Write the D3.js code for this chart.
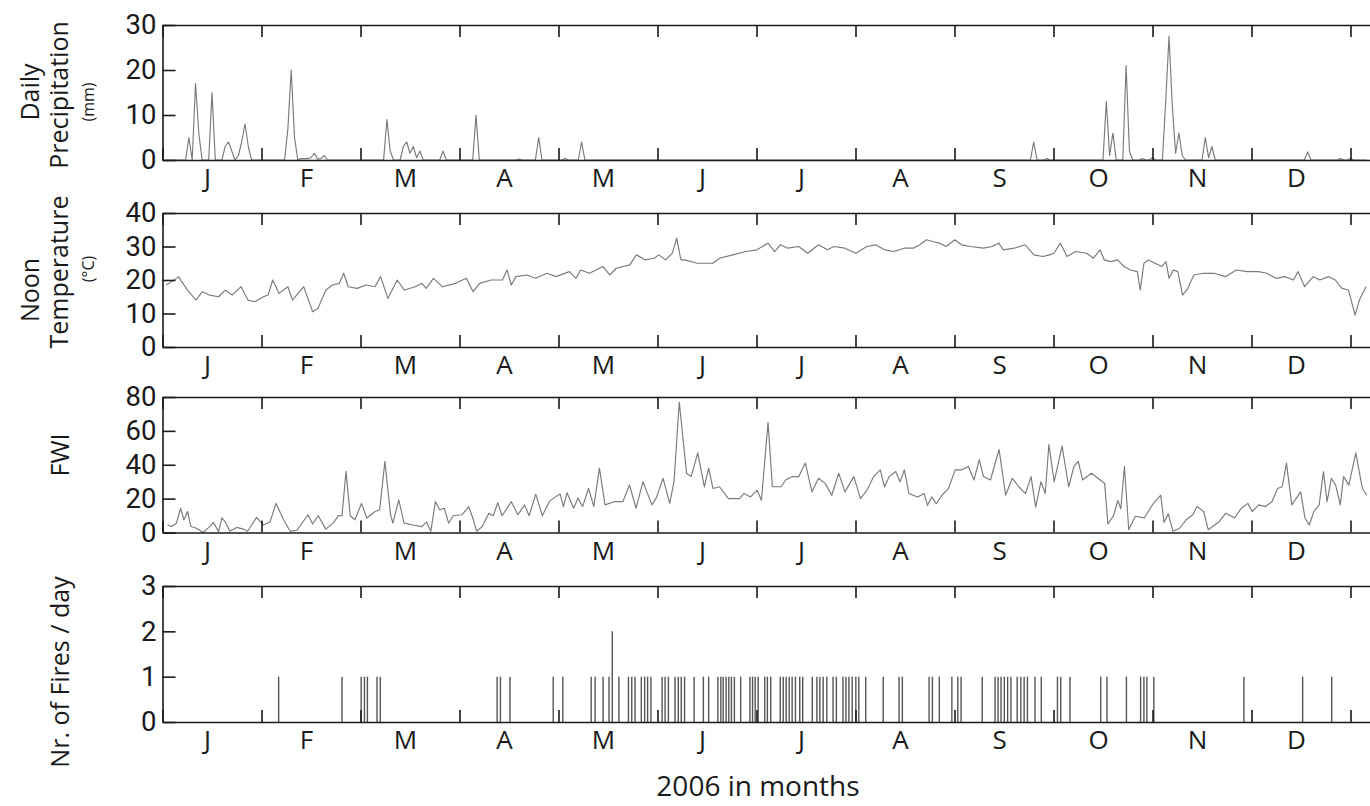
<!DOCTYPE html>
<html><head><meta charset="utf-8">
<script src="https://cdn.jsdelivr.net/npm/d3@7"></script>
<style>
body{margin:0;background:#fff}
svg{display:block}
</style></head><body>
<svg id="c" width="1370" height="806"></svg>
<script>
// ---------- data ----------
const monthLabels = ["J","F","M","A","M","J","J","A","S","O","N","D"];
const monthTickDays = [0,30,60,90,120,150,180,210,240,270,300,330,360];
const monthLabelDays = [13.5,43.5,73.5,103.5,133.5,163.5,193.5,223.5,253.5,283.5,313.5,343.5];

const precipTicks = [0,10,20,30];
const tempTicks = [0,10,20,30,40];
const fwiTicks = [0,20,40,60,80];
const fireTicks = [0,1,2,3];

const precipDays = [1,7,8,9,10,11,12,14,15,16,18,19,20,21,22,23,24,25,26,27,37,38,39,40,41,42,43,44,45,46,47,48,49,50,67,68,69,70,72,73,74,75,76,77,78,79,84,85,86,94,95,96,107,108,109,113,114,115,121,122,123,126,127,128,263,264,265,267,268,269,285,286,287,288,289,291,292,293,294,296,297,298,299,300,301,303,304,305,306,307,308,309,310,315,316,317,318,319,346,347,348,356,357,358,359,360,361,365];
const precipValues = [0,0,5,0,17,6,0,0,15,0,0,3,4,2,0,1,4,8,3,0,0,7,20,5,0,0.3,0.3,0.3,0.5,1.5,0.2,0.3,1,0,0,9,2,0,0,3,4,1.5,3,0.5,2,0,0,2,0,0,10,0,0,0.2,0,0,5,0,0,0.3,0,0,4,0,0,4,0,0,0.3,0,0,13,1,6,0,0,21,2,0,0,0.3,0,0,0.5,0,0,13,27.5,12,1.5,6,1,0,0,5,0.5,3,0,0,1.8,0,0,0.3,0,0,0.3,0,0];

const tempDays = [1,2,4.9,5.8,7.6,10.1,12.1,14.2,17,19,21.1,23.8,25.9,27.9,30.6,32,33.4,35.3,38,39.4,42.8,45.5,47.1,49.5,51.5,53.6,54.9,56.3,59,61.7,64.4,66.1,68.3,71.1,73.3,76.6,78.6,79.9,82.1,84.8,88.8,92.1,94.1,96.1,99.6,103,104.4,105.7,107.1,110.4,113.1,116.5,119.2,123.3,125.3,126.7,129.4,133.5,135.5,137.5,141.6,143.6,146.3,149,150.4,152.4,154.5,155.8,157.1,158.2,162.1,166.8,168.8,172.8,176.8,180.1,183.5,185.5,187.2,189.5,192.8,195.5,198.8,201.5,203.4,206.8,210.1,213.4,216.1,218.8,221.5,224.8,227.5,229.5,231.5,233.4,235.5,237.5,240.1,242.1,244.8,248.8,251.4,253.4,254.8,258.1,261.4,264.1,266.8,268.8,270.1,272.1,274.1,276.7,280.1,282.1,284.1,285.4,287.4,289.4,291.4,293.4,295.4,296.3,297.4,298.7,300.8,302.8,304.1,305,306.3,307.7,309.1,310.7,312.5,315.4,318.7,322.1,325.4,328.7,332.1,334.7,337.4,340.1,342.7,344.1,346.1,348.7,350.7,353.4,355.4,357.4,359.4,361.4,362.7,364.7];
const tempValues = [18.5,19,21,19.5,17,14,16.5,15.5,15,17,15.5,18,14,13.5,15,15.5,20,16,18,14,18,10.5,11.5,17,18.5,19,22,18,17.5,18.5,18,21,14.5,20,17,18,19,17.5,20.5,18,19,20.5,16.5,19,20,20,23,18.5,21,21.5,20.5,22,21,22.5,20.5,23,22,24,21.5,23.5,24.5,27.5,26,26.5,27.5,26,28,32.5,26,26,25,25,26.5,27.5,28.5,29,31,28.5,30.5,29.5,30,28,30.5,29,30,29.5,28,30,30.5,29,28.5,29.5,29.5,30.5,32,31.5,31,30,32,30.5,30,29.5,30,31,29,29.5,30.5,27.5,27,27.5,28,31,27,28.5,28,26.5,29,26,25.5,26,24,23,22.5,17,25,26,25,24,25.5,20.5,23,22.5,15.5,17.5,21.5,22,22,21,23,22.5,22.5,22,20.5,21,20,22.5,18,21,20,21,20,17.5,17,9.5,14,18];

const fwiDays = [1.5,2.8,4.2,5.5,6.5,7.6,8.6,10.3,12.3,14.3,15.4,17,18,19,20.4,22.5,24.5,25.8,28.5,30.6,32.6,34.4,36.7,38.7,40.7,44.1,45.5,47.2,49.5,51.9,53.3,54.4,55.6,56.9,58.3,60.3,61.9,64.4,65.8,67.4,69.1,69.8,71.6,73.2,75.9,78.6,80,81.3,82.7,84,85.4,86.7,88.1,90.8,92.8,94.2,95.2,96.9,98.9,100.2,101.6,102.9,105.7,107.7,109.7,111.1,113.1,115.1,117.2,118.5,120.5,121.5,122.6,124.6,125.9,127.3,129.1,130.7,132.4,134.1,136.8,139.5,141.5,143.5,145.6,148.3,149.6,151.7,153.7,155,156.6,158.8,160.2,162.2,164.2,165.5,166.8,168.8,171.5,174.8,176.2,178.2,180.2,181.5,183.5,184.8,187.5,188.8,190.8,192.8,194.8,196.8,198.8,200.8,202.8,204.9,206.8,209.5,211.5,213.5,215.5,217.5,218.8,220.2,222.2,223.5,224.8,226.2,228.8,230.8,231.8,233.1,234.5,236.2,238.2,240.2,242.2,244.2,245.9,247.5,248.8,250.9,253.5,255.5,257.5,259.5,261.5,263.2,264.6,266.2,267.5,268.6,270.2,272.6,274.6,276.2,277.5,278.8,281.5,284.2,285.5,286.5,288.2,289.5,290.4,291.5,292.8,294.8,297.5,300.2,302.5,303.5,304.8,306.2,308.2,310.2,312.2,313.5,315.5,316.9,318.2,320.2,322.2,324.9,326.9,328.9,330.2,332.2,334.2,336.2,337.9,339.3,340.6,342.2,344.9,346.2,347.5,348.9,350.5,351.8,352.9,354.2,355.5,356.9,357.9,359.5,361.6,363.6,364.9];
const fwiValues = [4.4,3.5,5.5,14.3,7.5,12.4,3.5,2.5,0,3.5,6,0.5,8.7,6.3,0.7,3,2,0.7,8.9,4.4,6.3,17.2,7.5,0.7,1.3,10.5,5,9.9,2,6,10,9.9,36.1,9.9,7.5,17.2,8.6,12.4,13.4,42,10.5,5.5,19.2,5.5,4.4,3.5,6.3,0.7,18.2,13.4,14.3,5.5,9.9,10.5,15.3,7.5,0.7,3.5,11.4,9.9,17.6,9.9,18.2,10.5,16.3,9.9,22.7,9.9,18.2,20.3,22.7,15.3,23.5,14.3,20.3,15.3,26,15.3,38,16.3,18.2,18.2,28.1,14.3,30,16.3,20.3,32,17.2,30,77,35,33,47,27,38,26,27,20,20,23,21,25,19,65,27,27,31,33,33,41,24,32,29,22,35,24,33,20,25,33,37,27,33,36,30,37,23,21,23,16,21,17,22,26,37,37,39,31,43,33,31,49,22,32,27,23,33,15,30,23,52,30,51,27,39,42,31,35,31,29,5,10,19,14,39,1.6,9.6,8.6,17,22,6,11,0.7,2.5,7.5,10.5,15.3,12.4,1.6,3.5,6.3,11.4,8.6,14.3,17.2,12.4,16.3,15.3,18.2,26,27,41,16.3,24,8.6,4.4,12.4,16.3,36,18.2,32,28,16.3,33,28,47,26,22];

const fireDays = [35.2,54.4,60.2,61.2,62.1,65.0,66.0,101.4,102.4,105.3,118.4,121.3,129.9,131.1,133.5,135.3,136.3,138.3,141.2,142.2,143.2,145.1,146.1,147.0,148.0,151.4,152.3,153.3,155.3,156.3,157.2,158.2,161.1,163.9,165.5,168.3,169.2,169.9,170.8,171.6,172.4,173.3,175.2,178.0,178.8,179.6,180.5,182.5,183.3,184.3,187.2,188.1,189.0,189.9,190.8,191.8,193.1,194.0,196.9,198.3,199.2,200.2,201.3,203.2,204.2,206.2,207.1,208.0,209.0,210.1,211.0,213.1,218.4,223.2,224.2,232.3,233.3,235.4,239.2,241.0,242.0,248.4,252.3,253.2,254.1,255.1,256.1,257.1,259.0,260.1,261.1,262.1,264.4,266.3,271.2,272.2,275.0,284.3,286.2,292.1,296.4,297.4,298.3,300.4,327.7,345.5,354.3];
const fireCounts = [1,1,1,1,1,1,1,1,1,1,1,1,1,1,1,1,2,1,1,1,1,1,1,1,1,1,1,1,1,1,1,1,1,1,1,1,1,1,1,1,1,1,1,1,1,1,1,1,1,1,1,1,1,1,1,1,1,1,1,1,1,1,1,1,1,1,1,1,1,1,1,1,1,1,1,1,1,1,1,1,1,1,1,1,1,1,1,1,1,1,1,1,1,1,1,1,1,1,1,1,1,1,1,1,1,1,1];

// ---------- layout ----------
const svg = d3.select("#c");
const FONT = "'Open Sans', sans-serif";
const NUMFONT = "Roboto, 'Open Sans', sans-serif";
const INK = "#1a1a1a";
const x = d3.scaleLinear().domain([0, 372]).range([162.5, 162.5 + 372 * 3.3]);

const panels = [
  {top: 25,  bottom: 160, max: 30, ticks: precipTicks, kind: "line", days: precipDays, values: precipValues},
  {top: 213, bottom: 347, max: 40, ticks: tempTicks,   kind: "line", days: tempDays,   values: tempValues},
  {top: 397, bottom: 532.5, max: 80, ticks: fwiTicks,  kind: "line", days: fwiDays,    values: fwiValues},
  {top: 586, bottom: 722, max: 3,  ticks: fireTicks,   kind: "bars", days: fireDays,   values: fireCounts}
];

function styleAxis(g) {
  g.attr("font-family", FONT).attr("color", INK);
  g.selectAll("path.domain, .tick line").attr("stroke-width", 1.6);
}

panels.forEach(p => {
  const y = d3.scaleLinear().domain([0, p.max]).range([p.bottom, p.top]);
  const g = svg.append("g");

  if (p.kind === "line") {
    g.append("path")
      .datum(d3.zip(p.days, p.values))
      .attr("fill", "none")
      .attr("stroke", "#7a7a7a")
      .attr("stroke-width", 1.15)
      .attr("stroke-linejoin", "round")
      .attr("d", d3.line().x(d => x(d[0])).y(d => y(d[1])));
  } else {
    g.selectAll("line.fire")
      .data(d3.zip(p.days, p.values))
      .join("line")
      .attr("class", "fire")
      .attr("x1", d => x(d[0])).attr("x2", d => x(d[0]))
      .attr("y1", y(0)).attr("y2", d => y(d[1]))
      .attr("stroke", "#555")
      .attr("stroke-width", 1.4);
  }

  g.append("g").attr("transform", `translate(0,${p.top})`)
    .call(d3.axisTop(x).tickValues(monthTickDays).tickSize(-12).tickSizeOuter(0).tickFormat(""))
    .call(styleAxis);
  g.append("g").attr("transform", `translate(0,${p.bottom})`)
    .call(d3.axisBottom(x).tickValues(monthTickDays).tickSize(-12).tickSizeOuter(0).tickFormat(""))
    .call(styleAxis);
  g.append("g").attr("transform", `translate(0,${p.bottom})`)
    .call(d3.axisBottom(x).tickValues(monthLabelDays).tickSize(0).tickPadding(9)
      .tickFormat((d, i) => monthLabels[i]))
    .call(styleAxis)
    .attr("font-size", 26)
    .call(a => a.select(".domain").remove());
  g.append("g").attr("transform", `translate(${x(0)},0)`)
    .call(d3.axisLeft(y).tickValues(p.ticks).tickSize(-13).tickSizeOuter(0).tickPadding(6).tickFormat(d3.format("d")))
    .call(styleAxis)
    .attr("font-family", NUMFONT)
    .attr("font-size", 27.5);
});

const titles = [
  {t: "Daily", x: 30, y: 92, s: 25},
  {t: "Precipitation", x: 59, y: 95, s: 25},
  {t: "(mm)", x: 88, y: 102, s: 16},
  {t: "Noon", x: 30, y: 290, s: 25},
  {t: "Temperature", x: 59, y: 272, s: 25},
  {t: "(°C)", x: 88, y: 269, s: 16},
  {t: "FWI", x: 60, y: 455, s: 25},
  {t: "Nr. of Fires / day", x: 60, y: 672, s: 25}
];
svg.selectAll("text.ttl").data(titles).join("text")
  .attr("class", "ttl")
  .attr("transform", d => `translate(${d.x},${d.y}) rotate(-90)`)
  .attr("text-anchor", "middle")
  .attr("dy", "0.35em")
  .attr("font-family", FONT)
  .attr("font-size", d => d.s)
  .attr("fill", INK)
  .text(d => d.t);

svg.append("text")
  .attr("x", 758).attr("y", 796)
  .attr("text-anchor", "middle")
  .attr("font-family", FONT)
  .attr("font-size", 28)
  .attr("fill", INK)
  .text("2006 in months");
</script>
</body></html>
